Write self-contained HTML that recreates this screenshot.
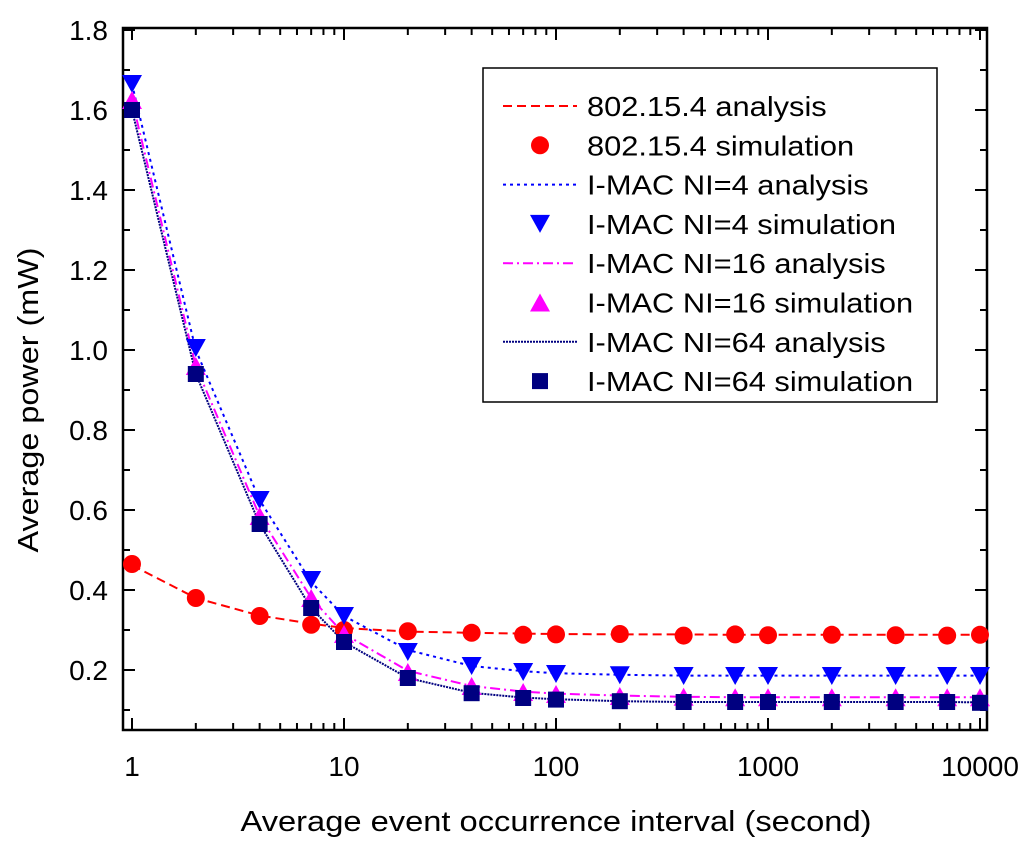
<!DOCTYPE html>
<html><head><meta charset="utf-8"><style>
body{margin:0;background:#fff;}
svg text{font-family:"Liberation Sans",Arial,sans-serif;fill:#000;}
</style></head><body>
<svg id="chart" width="1024" height="840" xmlns="http://www.w3.org/2000/svg"></svg>
<script>
const xs=[1,2,4,7,10,20,40,70,100,200,400,700,1000,2000,4000,7000,10000];
const s802=[.465,.38,.335,.313,.30,.297,.293,.288,.289,.29,.286,.289,.287,.288,.287,.286,.288];
const a802=[.462,.38,.336,.316,.305,.296,.293,.291,.29,.289,.289,.288,.288,.288,.288,.288,.288];
const sNI4=[1.665,1.005,.625,.425,.335,.245,.21,.195,.19,.187,.185,.185,.185,.185,.185,.185,.185];
const aNI4=[1.665,1.0,.625,.42,.335,.25,.21,.197,.192,.188,.186,.186,.186,.186,.186,.186,.186];
const sNI16=[1.625,.96,.585,.38,.29,.195,.16,.145,.14,.135,.133,.132,.132,.132,.132,.132,.132];
const aNI16=[1.625,.96,.585,.38,.29,.198,.16,.146,.141,.136,.133,.132,.132,.132,.132,.132,.132];
const sNI64=[1.6,.94,.565,.355,.27,.18,.142,.13,.126,.122,.12,.12,.12,.12,.12,.12,.118];
const aNI64=[1.6,.94,.565,.355,.27,.18,.143,.131,.127,.122,.12,.12,.12,.12,.12,.12,.119];
const yTicks=[0.2,0.4,0.6,0.8,1.0,1.2,1.4,1.6,1.8];
const xTicks=[1,10,100,1000,10000];
const xTickLabels=["1","10","100","1000","10000"];

const L=123,R=987,T=28,B=730;
const X=v=>132+Math.log10(v)*212;
const Y=v=>670-(v-0.2)*400;
const svg=document.getElementById('chart');
const NS="http://www.w3.org/2000/svg";
function mk(tag,attrs,parent){const e=document.createElementNS(NS,tag);for(const k in attrs)e.setAttribute(k,attrs[k]);(parent||svg).appendChild(e);return e;}
function stretch(t,k){const w=t.getComputedTextLength();t.setAttribute('textLength',(w*k).toFixed(1));t.setAttribute('lengthAdjust','spacingAndGlyphs');}

let f=mk('rect',{x:L,y:T,width:R-L,height:B-T,fill:'none',stroke:'#000','stroke-width':2.5});


for(let k=1;k<=18;k++){
 const v=k/10;const major=k%2===0;
 const len=major?12:7;const y=Y(v);
 mk('line',{x1:L,x2:L+len,y1:y,y2:y,stroke:'#000','stroke-width':2});
 mk('line',{x1:R,x2:R-len,y1:y,y2:y,stroke:'#000','stroke-width':2});
}
yTicks.forEach(v=>{const t=mk('text',{x:L-15,y:Y(v)+10,'font-size':28,'text-anchor':'end'});t.textContent=v.toFixed(1);
 
 });
for(let d=0;d<=4;d++){for(let m=1;m<=9;m++){const v=m*Math.pow(10,d);if(v>10000)break;const x=X(v);const len=m===1?12:7;
 mk('line',{x1:x,x2:x,y1:B,y2:B-len,stroke:'#000','stroke-width':2});
 mk('line',{x1:x,x2:x,y1:T,y2:T+len,stroke:'#000','stroke-width':2});}}
xTicks.forEach((v,i)=>{const t=mk('text',{x:X(v),y:B+46,'font-size':28,'text-anchor':'middle'});t.textContent=xTickLabels[i];
 
 });
let xt=mk('text',{x:556,y:831,'font-size':29,'text-anchor':'middle'});xt.textContent='Average event occurrence interval (second)';
xt.setAttribute('textLength','631');xt.setAttribute('lengthAdjust','spacingAndGlyphs');


let yt=mk('text',{x:0,y:0,'font-size':29,'text-anchor':'middle',transform:'translate(38,400) rotate(-90)'});yt.textContent='Average power (mW)';
yt.setAttribute('textLength','305');yt.setAttribute('lengthAdjust','spacingAndGlyphs');



function line(arr,color,dash,name){const d=arr.map((v,i)=>(i?'L':'M')+X(xs[i]).toFixed(1)+','+Y(v).toFixed(1)).join('');
 const p=mk('path',{d:d,fill:'none',stroke:color,'stroke-width':2,'stroke-dasharray':dash});
 
 }
function marker(g,type,x,y,color){
 if(type==='circle')mk('circle',{cx:x,cy:y,r:9,fill:color},g);
 else if(type==='down')mk('polygon',{points:`${x-10},${y-9} ${x+10},${y-9} ${x},${y+9}`,fill:color},g);
 else if(type==='up')mk('polygon',{points:`${x-10},${y+9} ${x+10},${y+9} ${x},${y-9}`,fill:color},g);
 else mk('rect',{x:x-8,y:y-8,width:16,height:16,fill:color},g);}
function pts(arr,color,type,name){const g=mk('g',{});
 
 
 arr.forEach((v,i)=>marker(g,type,X(xs[i]),Y(v),color));}

line(a802,'#ff0000','9,5','line-802-analysis');
line(aNI4,'#0000ff','3,4','line-ni4-analysis');
line(aNI16,'#ff00ff','10,4,2,4','line-ni16-analysis');
line(aNI64,'#000080','2,1','line-ni64-analysis');
pts(s802,'#ff0000','circle','points-802-simulation');
pts(sNI4,'#0000ff','down','points-ni4-simulation');
pts(sNI16,'#ff00ff','up','points-ni16-simulation');
pts(sNI64,'#000080','square','points-ni64-simulation');

const lg=mk('g',{});


mk('rect',{x:483,y:68,width:454,height:334,fill:'#fff',stroke:'#000','stroke-width':1.5},lg);
const entries=[['802.15.4 analysis','#ff0000','9,5',null],['802.15.4 simulation','#ff0000',null,'circle'],
['I-MAC NI=4 analysis','#0000ff','3,4',null],['I-MAC NI=4 simulation','#0000ff',null,'down'],
['I-MAC NI=16 analysis','#ff00ff','10,4,2,4',null],['I-MAC NI=16 simulation','#ff00ff',null,'up'],
['I-MAC NI=64 analysis','#000080','2,1',null],['I-MAC NI=64 simulation','#000080',null,'square']];
entries.forEach((e,i)=>{const y=106+i*39.3;const g=mk('g',{},lg);
 
 
 if(e[3])marker(g,e[3],540,y,e[1]);else mk('line',{x1:503,x2:577,y1:y,y2:y,stroke:e[1],'stroke-width':2,'stroke-dasharray':e[2]},g);
 const t=mk('text',{x:587,y:y+10,'font-size':28},g);t.textContent=e[0];stretch(t,1.1);});
</script>
</body></html>
